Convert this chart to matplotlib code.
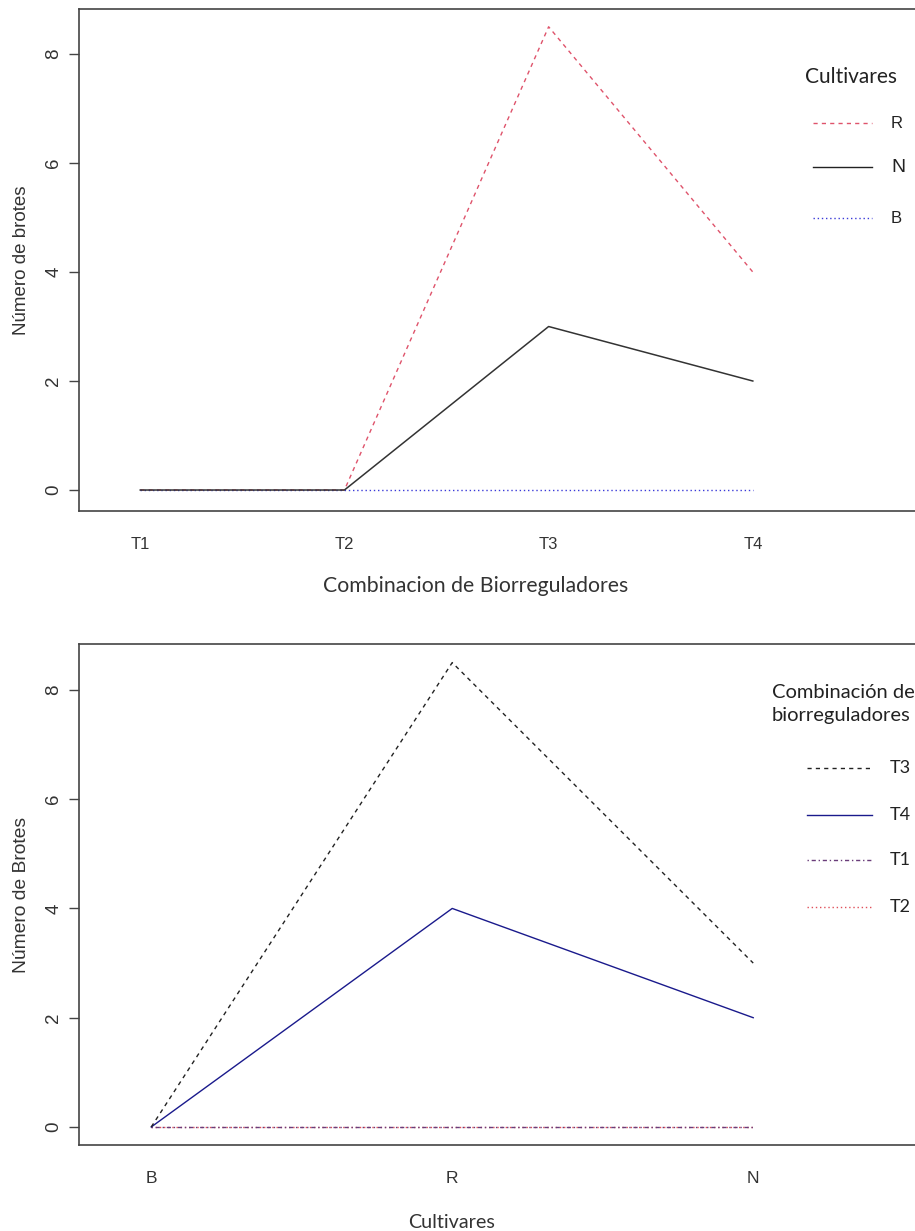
import matplotlib
matplotlib.use("Agg")
import matplotlib.pyplot as plt
from matplotlib.lines import Line2D

# ---------------- data ----------------
tratamientos = ["T1", "T2", "T3", "T4"]
cultivares_top = ["R", "N", "B"]
brotes_R = [0, 0, 8.5, 4]
brotes_N = [0, 0, 3, 2]
brotes_B = [0, 0, 0, 0]

cultivares = ["B", "R", "N"]
trat_bottom = ["T3", "T4", "T1", "T2"]
brotes_T3 = [0, 8.5, 3]
brotes_T4 = [0, 4, 2]
brotes_T1 = [0, 0, 0]
brotes_T2 = [0, 0, 0]
yticks = [0, 2, 4, 6, 8]

# ---------------- figure ----------------
W, H, DPI = 915, 1231, 100
fig = plt.figure(figsize=(W / DPI, H / DPI), dpi=DPI)
fig.patch.set_facecolor("white")

ARIAL = ["Liberation Sans", "DejaVu Sans"]
CALIBRI = ["Lato", "DejaVu Sans"]
SPINE = "#444444"


def px_axes(l, t, r, b):
    return fig.add_axes([l / W, 1 - b / H, (r - l) / W, (b - t) / H])


def style(ax, xsize):
    for s in ["top", "left", "bottom", "right"]:
        ax.spines[s].set_color(SPINE)
        ax.spines[s].set_linewidth(1.2)
    ax.tick_params(axis="y", length=7, width=1.0, color=SPINE, pad=5,
                   labelsize=13.5, labelcolor="#333333")
    ax.tick_params(axis="x", length=0, labelsize=xsize, labelcolor="#333333")
    for lab in ax.get_yticklabels():
        lab.set_rotation(90)
        lab.set_va("center")
        lab.set_family(ARIAL)
    for lab in ax.get_xticklabels():
        lab.set_family(ARIAL)


dashed = (0, (3, 3))
dotted = (0, (1, 2))
dashdot = (0, (1, 2, 3, 2))

RED = "#DF536B"
BLUE = "#3a3ad8"

# ---------------- top panel ----------------
ax1 = px_axes(79, 9, 957, 511)
x1 = list(range(1, len(tratamientos) + 1))
ax1.plot(x1, brotes_R, color=RED, lw=1.0, ls=dashed, zorder=2)
ax1.plot(x1, brotes_B, color=BLUE, lw=1.0, ls=dotted, zorder=2)
ax1.plot(x1, brotes_N, color="#333333", lw=1.1, ls="-", zorder=3)
ax1.set_xlim(0.7, 5.0)
ax1.set_ylim(-0.385, 8.826)
ax1.set_yticks(yticks)
ax1.set_xticks(x1)
ax1.set_xticklabels(tratamientos)
ax1.tick_params(axis="x", pad=19)
style(ax1, 12)
ax1.set_ylabel("Número de brotes", fontsize=13.5, family=ARIAL, color="#333333")
ax1.yaxis.label.set_va("center")
ax1.yaxis.set_label_coords((22 - 79) / (957 - 79), 0.5)
ax1.set_xlabel("Combinacion de Biorreguladores", fontsize=15.3, family=CALIBRI,
               color="#333333")
ax1.xaxis.set_label_coords((476 - 79) / (957 - 79), -(586 - 511) / (511 - 9))
ax1.xaxis.label.set_va("center")

# legend (top)
fig.text(805 / W, 1 - 77 / H, "Cultivares", fontsize=15, family=CALIBRI,
         color="#222222", ha="left", va="center")
leg_top = [("R", RED, dashed, 123, 12),
           ("N", "#222222", "-", 167, 14),
           ("B", BLUE, dotted, 218, 12)]
for lab, col, ls, yy, fs in leg_top:
    fig.add_artist(Line2D([813 / W, 872 / W], [1 - yy / H, 1 - yy / H],
                          color=col, ls=ls, lw=1.0))
    fig.text(891 / W, 1 - yy / H, lab, fontsize=fs, family=ARIAL,
             color="#222222", ha="left", va="center")

# ---------------- bottom panel ----------------
ax2 = px_axes(79, 644, 994, 1145)
x2 = list(range(1, len(cultivares) + 1))
ax2.plot(x2, brotes_T2, color="#e0505a", lw=1.0, ls=dotted, zorder=2)
ax2.plot(x2, brotes_T1, color="#6a3d7a", lw=1.0, ls=dashdot, zorder=3)
ax2.plot(x2, brotes_T4, color="#1a1a8c", lw=1.0, ls="-", zorder=3)
ax2.plot(x2, brotes_T3, color="#222222", lw=1.0, ls=dashed, zorder=3)
ax2.set_xlim(0.76, 3.8)
ax2.set_ylim(-0.33, 8.84)
ax2.set_yticks(yticks)
ax2.set_xticks(x2)
ax2.set_xticklabels(cultivares)
ax2.tick_params(axis="x", pad=19)
style(ax2, 12.5)
ax2.set_ylabel("Número de Brotes", fontsize=13.9, family=ARIAL, color="#333333")
ax2.yaxis.label.set_va("center")
ax2.yaxis.set_label_coords((22 - 79) / (994 - 79), 0.5)
ax2.set_xlabel("Cultivares", fontsize=14.2, family=CALIBRI, color="#333333")
ax2.xaxis.set_label_coords((452 - 79) / (994 - 79), -(1222 - 1145) / (1145 - 644))
ax2.xaxis.label.set_va("center")

# legend (bottom)
fig.text(772 / W, 1 - 692 / H, "Combinación de", fontsize=14.5, family=CALIBRI,
         color="#222222", ha="left", va="center")
fig.text(772 / W, 1 - 715 / H, "biorreguladores", fontsize=14.5, family=CALIBRI,
         color="#222222", ha="left", va="center")
leg_bot = [("T3", "#222222", dashed, 768),
           ("T4", "#1a1a8c", "-", 815),
           ("T1", "#6a3d7a", dashdot, 860),
           ("T2", "#e0505a", dotted, 907)]
for lab, col, ls, yy in leg_bot:
    fig.add_artist(Line2D([807 / W, 872 / W], [1 - yy / H, 1 - yy / H],
                          color=col, ls=ls, lw=1.0))
    fig.text(890 / W, 1 - yy / H, lab, fontsize=13, family=CALIBRI,
             color="#222222", ha="left", va="center")

fig.savefig("out.png", dpi=DPI, facecolor="white")
